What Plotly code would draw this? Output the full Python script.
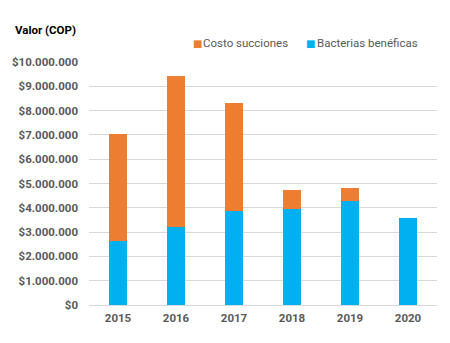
import plotly.graph_objects as go

years = ["2015", "2016", "2017", "2018", "2019", "2020"]
bacterias = [2630000, 3220000, 3880000, 3960000, 4290000, 3580000]
succiones = [4410000, 6200000, 4430000, 770000, 520000, 0]
tick_vals = [i * 1000000 for i in range(11)]
tick_text = ["$0"] + ["$" + f"{v:,}".replace(",", ".") for v in tick_vals[1:]]

BLUE = "#00B0F0"
ORANGE = "#ED7D31"

fig = go.Figure()
fig.add_trace(go.Bar(name="Bacterias benéficas", x=years, y=bacterias,
                     marker=dict(color=BLUE, line=dict(width=0))))
fig.add_trace(go.Bar(name="Costo succiones", x=years, y=succiones,
                     marker=dict(color=ORANGE, line=dict(width=0))))

fig.update_layout(
    barmode="stack",
    bargap=0.68,
    width=450, height=343,
    margin=dict(l=78, r=13, t=62, b=38),
    plot_bgcolor="white", paper_bgcolor="white",
    font=dict(family="Roboto", color="#595959", size=11),
    showlegend=False,
)
fig.update_yaxes(range=[0, 10000000], tickvals=tick_vals, ticktext=tick_text,
                 showgrid=True, gridcolor="#D9D9D9", gridwidth=1,
                 zeroline=True, zerolinecolor="#D9D9D9", zerolinewidth=1,
                 tickfont=dict(family="Roboto", size=11.5, color="#595959", weight="bold"),
                 ticklabelstandoff=10)
fig.update_xaxes(tickfont=dict(family="Roboto", size=11.5, color="#595959", weight="bold"),
                 showline=False, ticklabelstandoff=4)

# axis title, placed in the top-left corner of the page
fig.add_annotation(text="<b>Valor (COP)</b>", xref="paper", yref="paper",
                   x=0, y=1.13, xshift=-76, xanchor="left", yanchor="middle",
                   showarrow=False, font=dict(family="Roboto", size=11.5, color="#000000"))

# legend entries (top row)
legend_items = [("Costo succiones", ORANGE, 0.293), ("Bacterias benéficas", BLUE, 0.619)]
for label, color, xpos in legend_items:
    fig.add_annotation(text="■", xref="paper", yref="paper", x=xpos, y=1.078,
                       xanchor="left", yanchor="middle", showarrow=False,
                       font=dict(family="DejaVu Sans", size=10, color=color))
    fig.add_annotation(text=label, xref="paper", yref="paper", x=xpos + 0.03, y=1.078,
                       xanchor="left", yanchor="middle", showarrow=False,
                       font=dict(family="Roboto", size=11.5, color="#595959"))

fig.write_html("out.html")
